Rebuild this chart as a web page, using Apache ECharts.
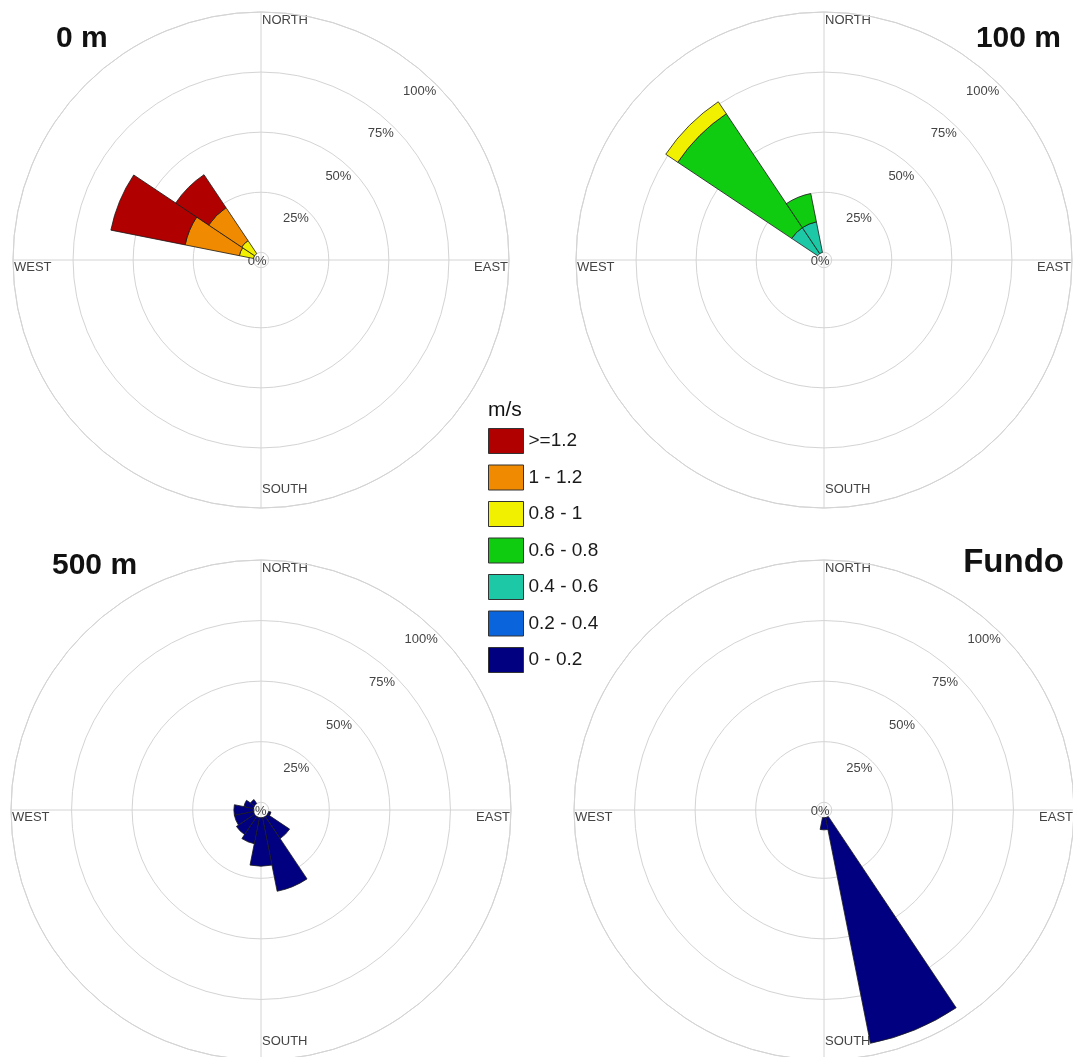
<!DOCTYPE html>
<html>
<head>
<meta charset="utf-8">
<title>Wind roses</title>
<script src="https://cdn.jsdelivr.net/npm/echarts@6/dist/echarts.min.js"></script>
<style>
	html, body { margin: 0; padding: 0; background: #ffffff; }
	#mainChart { width: 1073px; height: 1057px; }
</style>
</head>
<body>
<div id="mainChart"></div>
<script>
	// 16 sectors, clockwise from north
	var directions = ['N', 'NNE', 'NE', 'ENE', 'E', 'ESE', 'SE', 'SSE', 'S', 'SSW', 'SW', 'WSW', 'W', 'WNW', 'NW', 'NNW'];
	// speed classes (m/s), slowest first = closest to the centre
	var speedBins = ['0 - 0.2', '0.2 - 0.4', '0.4 - 0.6', '0.6 - 0.8', '0.8 - 1', '1 - 1.2', '>=1.2'];
	var binColors = ['#000080', '#0a64dc', '#1cc8a6', '#10cc10', '#f0f000', '#f08a00', '#b00000'];
	var ringValues = [0, 25, 50, 75, 100];
	var compassNames = ['NORTH', 'EAST', 'SOUTH', 'WEST'];

	// [direction, speed class, % of time]
	var rose0m = [
		['WNW', '0.8 - 1', 6], ['WNW', '1 - 1.2', 23], ['WNW', '>=1.2', 31.5],
		['NW', '0.8 - 1', 6.5], ['NW', '1 - 1.2', 16.5], ['NW', '>=1.2', 16.5]
	];
	var rose100m = [
		['NW', '0.4 - 0.6', 13], ['NW', '0.6 - 0.8', 57], ['NW', '0.8 - 1', 6],
		['NNW', '0.4 - 0.6', 13], ['NNW', '0.6 - 0.8', 12]
	];
	var rose500m = [
		['ESE', '0 - 0.2', 1], ['SE', '0 - 0.2', 11], ['SSE', '0 - 0.2', 31], ['S', '0 - 0.2', 20],
		['SSW', '0 - 0.2', 11], ['SW', '0 - 0.2', 9], ['WSW', '0 - 0.2', 8], ['W', '0 - 0.2', 8],
		['WNW', '0 - 0.2', 4], ['NW', '0 - 0.2', 2]
	];
	var roseFundo = [
		['SSE', '0 - 0.2', 95], ['S', '0 - 0.2', 5]
	];

	// radial axis starts a bit below 0 so the wedges leave a small hole at the centre
	var radialMin = -3.2;

	var panels = [
		{ title: '0 m', rose: rose0m, cx: 261, cy: 260, r: 248, tx: 56, ty: 24, align: 'left', size: 30 },
		{ title: '100 m', rose: rose100m, cx: 824, cy: 260, r: 248, tx: 1061, ty: 24, align: 'right', size: 30 },
		{ title: '500 m', rose: rose500m, cx: 261, cy: 810, r: 250, tx: 52, ty: 551, align: 'left', size: 30 },
		{ title: 'Fundo', rose: roseFundo, cx: 824, cy: 810, r: 250, tx: 1064, ty: 546, align: 'right', size: 33 }
	];

	var fontName = 'Liberation Sans, Arial, sans-serif';
	var gridColor = '#d4d4d4';

	function sectorValues(rose, bin) {
		return directions.map(function (d) {
			var v = 0;
			rose.forEach(function (row) {
				if (row[0] === d && row[1] === bin) v += row[2];
			});
			// empty sectors get no outline, otherwise a dark ring shows at 0%
			return v > 0 ? v : { value: 0, itemStyle: { borderWidth: 0 } };
		});
	}

	function textEl(text, x, y, align, vAlign, font, color) {
		return {
			type: 'text',
			x: x,
			y: y,
			silent: true,
			style: {
				text: text,
				font: font,
				fill: color,
				align: align,
				textAlign: align,
				verticalAlign: vAlign,
				textVerticalAlign: vAlign
			}
		};
	}

	var polar = [], angleAxis = [], radiusAxis = [], series = [], graphic = [];

	panels.forEach(function (p, i) {
		var gi = i * 2, bi = i * 2 + 1;
		polar.push({ center: [p.cx, p.cy], radius: p.r });
		polar.push({ center: [p.cx, p.cy], radius: p.r });

		// grid polar: rings, N-S / E-W lines and % labels along the NE diagonal
		angleAxis.push({
			polarIndex: gi,
			type: 'value',
			min: 0,
			max: 360,
			startAngle: 45,
			clockwise: false,
			axisLine: { show: true, lineStyle: { color: gridColor, width: 1 } },
			axisTick: { show: false, customValues: [45, 135, 225, 315] },
			axisLabel: { show: false },
			splitLine: { show: true, lineStyle: { color: gridColor, width: 1 } }
		});
		radiusAxis.push({
			polarIndex: gi,
			type: 'value',
			min: radialMin,
			max: 100,
			axisLine: { show: false },
			axisTick: { show: false, customValues: ringValues },
			axisLabel: {
				customValues: ringValues,
				formatter: '{value}%',
				color: '#444',
				fontSize: 13,
				fontFamily: fontName,
				align: 'right',
				verticalAlign: 'top',
				margin: 0
			},
			splitLine: { show: true, lineStyle: { color: gridColor, width: 1 } }
		});

		// bar polar: 16 sectors, N centred at the top
		angleAxis.push({
			polarIndex: bi,
			type: 'category',
			data: directions,
			startAngle: 90 + 360 / directions.length / 2,
			clockwise: true,
			show: false
		});
		radiusAxis.push({
			polarIndex: bi,
			type: 'value',
			min: radialMin,
			max: 100,
			show: false
		});

		speedBins.forEach(function (bin, b) {
			series.push({
				type: 'bar',
				name: bin,
				coordinateSystem: 'polar',
				polarIndex: bi,
				stack: 'rose' + i,
				barCategoryGap: '0%',
				data: sectorValues(p.rose, bin),
				itemStyle: { color: binColors[b], borderColor: '#1a1a1a', borderWidth: 0.8 },
				emphasis: { disabled: true },
				z: 3
			});
		});

		graphic.push(textEl(p.title, p.tx, p.ty, p.align, 'top', 'bold ' + p.size + 'px ' + fontName, '#111'));
		var small = '13px ' + fontName;
		graphic.push(textEl(compassNames[0], p.cx + 1, p.cy - p.r + 2, 'left', 'top', small, '#444'));
		graphic.push(textEl(compassNames[1], p.cx + p.r - 1, p.cy + 1, 'right', 'top', small, '#444'));
		graphic.push(textEl(compassNames[2], p.cx + 1, p.cy + p.r - 12, 'left', 'bottom', small, '#444'));
		graphic.push(textEl(compassNames[3], p.cx - p.r + 1, p.cy + 1, 'left', 'top', small, '#444'));
	});

	graphic.push(textEl('m/s', 488, 400, 'left', 'top', '21px ' + fontName, '#111'));

	var myChart = echarts.init(document.getElementById('mainChart'));
	var option = {
		backgroundColor: '#ffffff',
		animation: false,
		polar: polar,
		angleAxis: angleAxis,
		radiusAxis: radiusAxis,
		legend: {
			data: speedBins.slice().reverse(),
			orient: 'vertical',
			left: 488,
			top: 428,
			padding: 0,
			itemWidth: 35,
			itemHeight: 25,
			itemGap: 10.5,
			icon: 'rect',
			itemStyle: { borderColor: '#333', borderWidth: 1 },
			textStyle: { fontSize: 19, fontFamily: fontName, color: '#1a1a1a' }
		},
		graphic: graphic,
		series: series
	};
	myChart.setOption(option, true);
</script>
</body>
</html>
